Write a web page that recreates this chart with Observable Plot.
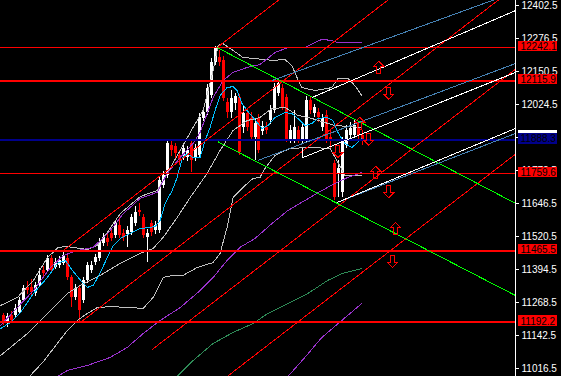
<!DOCTYPE html>
<html><head><meta charset="utf-8">
<script src="https://cdn.jsdelivr.net/npm/d3@7"></script>
<script src="https://cdn.jsdelivr.net/npm/@observablehq/plot@0.6"></script>
<style>
html,body{margin:0;padding:0;background:#000;overflow:hidden;}
#chart svg{display:block;}
</style></head><body><div id="chart"></div>
<script>
// ---- candles (bar index = position) ----
const opens  = [11219,11192,11219,11219,11230,11276,11326,11326,11303,11333,11391,11391,11437,11402,11410,11418,11437,11364,11288,11322,11276,11353,11391,11421,11437,11494,11513,11532,11524,11563,11532,11528,11536,11570,11620,11593,11517,11570,11543,11543,11715,11753,11868,11864,11830,11826,11822,11876,11818,11830,11971,11994,12059,12185,12204,12193,12032,11994,12028,12051,11937,11990,11971,11899,11971,11921,11937,11963,12002,12067,12086,12051,11887,11887,11925,11887,11887,12040,11990,11994,11937,11982,11898,11799,11761,11688,11868,11906,11906,11937,11906];
const highs  = [11227,11227,11234,11261,11288,11334,11349,11356,11345,11398,11406,11448,11448,11437,11444,11467,11452,11372,11337,11334,11364,11421,11425,11452,11513,11532,11528,11551,11582,11593,11547,11559,11605,11635,11647,11605,11547,11582,11578,11746,11769,11887,11887,11876,11849,11876,11864,11891,11872,11990,12009,12101,12200,12246,12231,12208,12047,12078,12067,12063,12017,12009,11994,11971,11986,11960,11956,12021,12105,12120,12101,12063,11944,12002,11941,11956,12055,12055,12025,12009,11986,12002,11925,11811,11811,11898,11944,11956,11963,11956,11925];
const lows   = [11181,11173,11188,11207,11223,11269,11299,11295,11292,11326,11368,11383,11383,11395,11398,11410,11353,11249,11276,11192,11265,11341,11379,11410,11425,11482,11482,11501,11513,11513,11501,11479,11524,11559,11597,11513,11421,11521,11528,11532,11704,11742,11826,11811,11792,11811,11807,11765,11807,11818,11960,11983,12047,12174,12170,12036,11971,11971,12002,11830,11914,11921,11887,11811,11837,11906,11910,11948,11990,12055,12002,11879,11876,11876,11876,11876,11876,11986,11975,11956,11921,11876,11849,11658,11669,11669,11857,11887,11895,11887,11868];
const closes = [11192,11215,11200,11246,11276,11322,11314,11307,11333,11372,11379,11437,11391,11421,11429,11448,11364,11288,11322,11238,11353,11410,11410,11440,11498,11517,11498,11513,11570,11524,11517,11543,11593,11612,11612,11524,11532,11536,11563,11734,11753,11876,11849,11837,11811,11857,11849,11811,11857,11975,11994,12086,12185,12238,12185,12047,11994,12047,12055,11841,11990,11937,11899,11952,11849,11941,11925,12002,12089,12105,12013,11887,11925,11937,11887,11937,12040,12002,12013,11975,11971,11887,11887,11670,11780,11887,11925,11933,11944,11906,11887];

// ---- indicator lines: [bar index, price] ----
const bandUpper = [[-0.75,11257],[3.5,11288],[7.5,11353],[11,11440],[13.75,11479],[16,11482],[21,11471],[23.5,11486],[26,11536],[29.25,11608],[34.25,11673],[38.5,11696],[40,11734],[44.25,11849],[47.5,11937],[50,12002],[52.5,12154],[53.75,12250],[55,12257],[57.5,12231],[60,12204],[63,12200],[67.25,12193],[70.5,12196],[72.25,12173],[73.5,12128],[74.75,12089],[78,12078],[82.25,12089],[83.75,12124],[86.25,12124],[88,12097],[89.75,12059]];
const bandMiddle = [[-0.75,11066],[6,11150],[11.75,11238],[16,11303],[19.25,11334],[24.25,11372],[29.25,11418],[34.25,11456],[37.5,11475],[40,11517],[43.5,11593],[46.75,11669],[51,11761],[54.25,11849],[57.5,11925],[61,11963],[64.25,11975],[67.25,12009],[70.5,12013],[73.75,11983],[77.25,11971],[83,11944],[86.25,11941],[89.75,11937]];
const bandLower = [[6.75,10990],[10,11043],[16,11162],[18.5,11200],[21,11227],[23.5,11249],[26.75,11253],[31.75,11249],[35,11246],[37.5,11288],[40,11364],[42.5,11372],[45,11372],[48.5,11402],[52.5,11421],[54.25,11456],[56,11555],[57.5,11669],[60,11708],[62.5,11742],[64.25,11746],[65.5,11780],[68,11830],[71.75,11857],[76.75,11860],[81.75,11857],[83.5,11811],[85.5,11753],[89.75,11753]];
const maFast = [[-0.75,11169],[1.75,11192],[4.25,11230],[7.5,11303],[11,11364],[13.5,11418],[15.5,11429],[17.25,11391],[19.75,11345],[21,11326],[22.5,11334],[24.25,11383],[26,11440],[27.5,11486],[29.25,11513],[31.75,11532],[34.25,11551],[36.75,11555],[38,11559],[39.25,11582],[40.5,11647],[42.25,11696],[43.5,11746],[44.75,11818],[46,11837],[47.5,11822],[49.25,11822],[50.5,11887],[51.75,11937],[53,12002],[54.25,12059],[56,12089],[57.5,12093],[58.5,12078],[59.75,12028],[61,12002],[62.5,11975],[64.75,11933],[66.25,11944],[68,11975],[70.5,11994],[72.25,11990],[73.75,11971],[75.5,11944],[77.25,11952],[78.75,11971],[81,11975],[82.5,11963],[83.75,11918],[85.5,11876],[87.25,11860],[88.5,11876],[89.75,11895]];
const maMid = [[-0.75,11181],[7.5,11314],[11.75,11402],[15,11448],[18.5,11467],[22.5,11479],[26.75,11543],[30,11608],[34.25,11666],[38.5,11689],[41,11761],[44.25,11822],[47.5,11876],[49.25,11918],[51,11990],[52.5,12051],[55,12116],[57.5,12147],[61,12166],[64.25,12177],[68,12223],[71.25,12242],[75.5,12242],[78,12261],[79.75,12273],[82.25,12269],[83.75,12261],[89.75,12261]];
const maSlow = [[13.5,10986],[16,11009],[21,11028],[26.75,11059],[31,11097],[35,11150],[39.25,11200],[44.25,11249],[49.25,11314],[52.5,11364],[56,11429],[59.25,11479],[63,11513],[67.25,11570],[71.25,11620],[75.5,11658],[79.75,11696],[83,11723],[86.25,11746],[89.75,11765]];
const maLong = [[43.5,10986],[47.5,11047],[52.5,11112],[57.5,11154],[62.5,11188],[66.25,11227],[71.25,11265],[76.25,11303],[81.25,11353],[84.75,11379],[89.75,11398]];
const maLow = [[71.25,10986],[75.5,11059],[79.75,11135],[84.75,11200],[89.75,11265]];

// ---- drawn objects: [x1, price1, x2, price2] ----
const redChannel = [[53.5,12242,128.25,13121],[15,11467,128.25,12799],[19.25,11192,128.25,12474],[37.25,11089,128.25,12159],[50,10915,128.25,11835]];
const greenChannel = [[53.5,12242,128.25,11647],[53.75,11882,128.25,11295]];
const steelLines = [[67.25,12116,128.25,12454],[63.75,11811,128.25,12181],[83.5,11650,128.25,11914]];
const whiteLines = [[77.25,12051,128.25,12383],[75,11822,128.25,12147],[83.5,11650,128.25,11933],[75,11860,75,11822]];
const levels = [12242.1, 12115.9, 11888.3, 11759.6, 11465.5, 11192.2];
const levelKinds = ["thin","bold","blue","thin","bold","bold"];
const arrowsUp = [[94,12166],[89.25,11952],[93.25,11765],[98.25,11551]];
const arrowsDown = [[96.5,12067],[91.5,11891],[83.75,11845],[96.5,11692],[97.5,11425]];
const tickValues = [12402.5,12276.5,12150.5,12024.5,11898.5,11772.5,11646.5,11520.5,11394.5,11268.5,11142.5,11016.5];

const xDomain = [-0.75, 128.25];
const xMax = xDomain[1];
const candles = opens.map((o, i) => ({i, o, h: highs[i], l: lows[i], c: closes[i], up: closes[i] >= o}));
const upC = candles.filter(d => d.up), dnC = candles.filter(d => !d.up);
const lv = levels.map((v, k) => ({v, kind: levelKinds[k]}));
const seg = (arr, stroke, extra = {}) => Plot.link(arr, {x1: d => d[0], y1: d => d[1], x2: d => d[2], y2: d => d[3], stroke, strokeWidth: 1, clip: true, ...extra});
const ln = (arr, stroke) => Plot.line(arr, {x: d => d[0], y: d => d[1], stroke, strokeWidth: 1, clip: true});

// hollow block-arrow symbols
const arrowSymbol = (dir) => ({
  draw(ctx) {
    const s = dir; // 1 = up, -1 = down
    ctx.moveTo(0, -6 * s);
    ctx.lineTo(5, -1 * s);
    ctx.lineTo(2, -1 * s);
    ctx.lineTo(2, 6 * s);
    ctx.lineTo(-2, 6 * s);
    ctx.lineTo(-2, -1 * s);
    ctx.lineTo(-5, -1 * s);
    ctx.closePath();
  }
});

const chart = Plot.plot({
  width: 561, height: 376,
  marginLeft: 0, marginTop: 0, marginBottom: 0, marginRight: 46,
  style: {background: "#000", color: "white", fontFamily: "Liberation Sans, Arial, sans-serif", fontSize: "10px", shapeRendering: "crispEdges"},
  x: {domain: xDomain, axis: null},
  y: {domain: [10985.9, 12421.6], axis: null},
  marks: [
    // candles
    Plot.ruleX(upC, {x: "i", y1: "l", y2: "h", stroke: "white"}),
    Plot.ruleX(dnC, {x: "i", y1: "l", y2: "h", stroke: "#ff0000"}),
    Plot.ruleX(upC, {x: "i", y1: "o", y2: "c", stroke: "white", strokeWidth: 3, strokeLinecap: "butt"}),
    Plot.ruleX(dnC, {x: "i", y1: "o", y2: "c", stroke: "#ff0000", strokeWidth: 3, strokeLinecap: "butt"}),
    // indicators
    ln(bandUpper, "#c0c0c0"), ln(bandMiddle, "#c0c0c0"), ln(bandLower, "#c0c0c0"),
    ln(maSlow, "#9932cc"), ln(maLong, "#2e8b57"), ln(maLow, "#9932cc"),
    ln(maMid, "#9932cc"), ln(maFast, "#00bfff"),
    // horizontal levels
    Plot.ruleY(lv.filter(d => d.kind === "thin"), {y: "v", stroke: "#ff0000", strokeWidth: 1}),
    Plot.ruleY(lv.filter(d => d.kind === "bold"), {y: "v", stroke: "#ff0000", strokeWidth: 2}),
    Plot.ruleY(lv.filter(d => d.kind === "blue"), {y: "v", stroke: "#00008b", strokeWidth: 2}),
    // drawn objects
    seg(redChannel, "#ff0000"),
    seg(greenChannel, "#00ff00"),
    seg(steelLines, "#4682b4"),
    seg(whiteLines, "#ffffff"),
    Plot.dot(arrowsUp, {x: d => d[0], y: d => d[1], symbol: arrowSymbol(1), r: 5, fill: "none", stroke: "#ff0000", strokeWidth: 1}),
    Plot.dot(arrowsDown, {x: d => d[0], y: d => d[1], symbol: arrowSymbol(-1), r: 5, fill: "none", stroke: "#ff0000", strokeWidth: 1}),
    // right price axis
    Plot.ruleX([xMax], {stroke: "white"}),
    Plot.axisY(tickValues, {anchor: "right", tickSize: 3, tickPadding: 3, tickFormat: d => d.toFixed(1), stroke: "white", fill: "white", label: null, fontSize: 10}),
    // level labels
    Plot.rect(lv.filter(d => d.kind === "blue"), {x1: () => xMax, x2: () => xMax, y1: "v", y2: "v", insetLeft: 2.5, insetRight: -42, insetTop: -10, insetBottom: 5.5, fill: "white"}),
    Plot.rect(lv, {x1: () => xMax, x2: () => xMax, y1: "v", y2: "v", insetLeft: 2.5, insetRight: -42, insetTop: -6.5, insetBottom: -4, fill: d => d.kind === "blue" ? "#00008b" : "#ff0000"}),
    Plot.text(lv, {x: () => xMax, y: "v", text: d => d.v.toFixed(1), dx: 5, dy: -1, textAnchor: "start", fill: "black", fontSize: 10})
  ],
  color: {type: "identity"}
});
document.getElementById("chart").append(chart);
</script></body></html>
